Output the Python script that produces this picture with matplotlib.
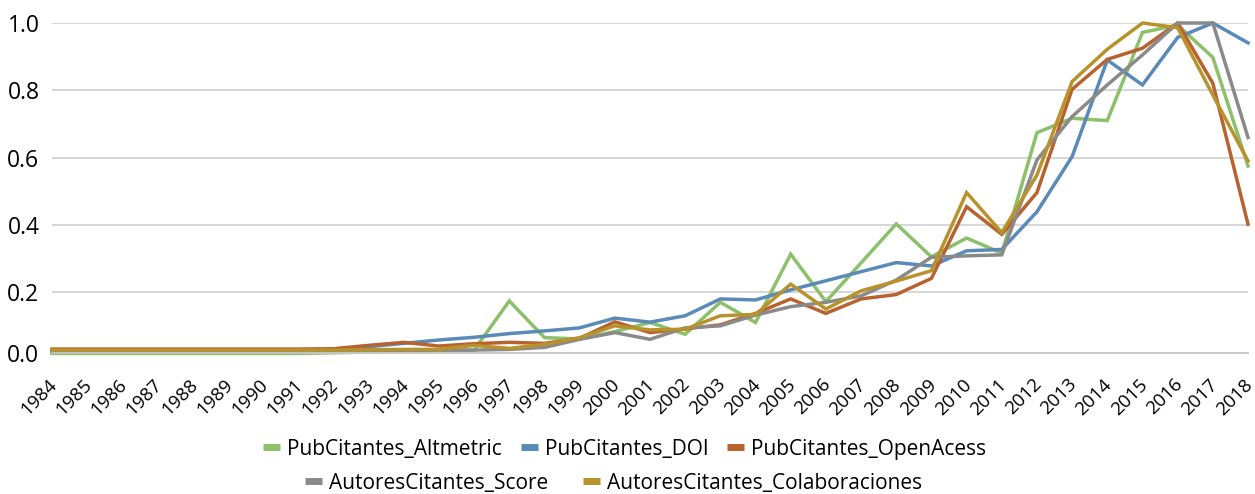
import matplotlib.pyplot as plt
import matplotlib.transforms as mtransforms
import numpy as np

# Years on the x axis
anios = list(range(1984, 2019))

# Normalised series (0-1) per year
pub_altmetric = [0.018, 0.018, 0.018, 0.018, 0.018, 0.018, 0.018, 0.018, 0.020, 0.022,
                 0.024, 0.026, 0.028, 0.174, 0.065, 0.061, 0.083, 0.110, 0.075, 0.170,
                 0.110, 0.313, 0.172, 0.287, 0.403, 0.305, 0.361, 0.316, 0.674, 0.717,
                 0.710, 0.972, 0.994, 0.898, 0.575]
pub_doi = [0.023, 0.023, 0.023, 0.023, 0.023, 0.023, 0.023, 0.023, 0.026, 0.038,
           0.048, 0.058, 0.066, 0.077, 0.085, 0.094, 0.123, 0.111, 0.130, 0.180,
           0.177, 0.207, 0.234, 0.261, 0.288, 0.278, 0.323, 0.327, 0.439, 0.603,
           0.890, 0.816, 0.957, 1.000, 0.941]
pub_openacess = [0.031, 0.031, 0.031, 0.031, 0.031, 0.031, 0.031, 0.031, 0.032, 0.042,
                 0.051, 0.040, 0.047, 0.051, 0.048, 0.063, 0.112, 0.080, 0.091, 0.103,
                 0.137, 0.180, 0.137, 0.180, 0.193, 0.241, 0.454, 0.372, 0.496, 0.803,
                 0.892, 0.925, 1.000, 0.821, 0.402]
aut_score = [0.025, 0.025, 0.025, 0.025, 0.025, 0.025, 0.025, 0.025, 0.025, 0.026,
             0.027, 0.028, 0.028, 0.030, 0.036, 0.060, 0.080, 0.060, 0.094, 0.100,
             0.132, 0.157, 0.170, 0.189, 0.236, 0.304, 0.308, 0.311, 0.593, 0.722,
             0.816, 0.905, 1.000, 1.000, 0.660]
aut_colab = [0.028, 0.028, 0.028, 0.028, 0.028, 0.028, 0.028, 0.028, 0.028, 0.029,
             0.030, 0.030, 0.042, 0.033, 0.045, 0.065, 0.100, 0.088, 0.090, 0.130,
             0.134, 0.224, 0.150, 0.204, 0.233, 0.264, 0.496, 0.377, 0.548, 0.826,
             0.922, 1.000, 0.986, 0.786, 0.590]

series = [
    ("PubCitantes_Altmetric", pub_altmetric, "#8cc06a"),
    ("PubCitantes_DOI", pub_doi, "#5a8ab8"),
    ("PubCitantes_OpenAcess", pub_openacess, "#b8632f"),
    ("AutoresCitantes_Score", aut_score, "#8a8a8a"),
    ("AutoresCitantes_Colaboraciones", aut_colab, "#b8932c"),
]

plt.rcParams['font.family'] = ['Open Sans', 'DejaVu Sans']

fig = plt.figure(figsize=(12.55, 4.94), dpi=100)
ax = fig.add_axes([52 / 1255, 1 - 352.5 / 494, (1248 - 52) / 1255, (352.5 - 23) / 494])

x = np.arange(len(anios))
lineas = []
for nombre, valores, color in series:
    l, = ax.plot(x, valores, color=color, lw=2.5, label=nombre, clip_on=False,
                 solid_joinstyle='miter')
    lineas.append(l)

y_min = 0.0208
ax.set_xlim(0, len(anios) - 1)
ax.set_ylim(y_min, 1.0)
ax.set_yticks([y_min, 0.2, 0.4, 0.6, 0.8, 1.0])
ax.set_yticklabels(["0.0", "0.2", "0.4", "0.6", "0.8", "1.0"], fontsize=16.5)
ax.set_xticks(x)
ax.set_xticklabels([str(a) for a in anios], rotation=45, ha='right', va='center',
                   rotation_mode='anchor', fontsize=13.5)
ax.tick_params(axis='both', length=0)
ax.tick_params(axis='x', pad=21)
ax.tick_params(axis='y', pad=9)

# shift the year labels slightly to the right of their tick
desplaza = mtransforms.ScaledTranslation(2 / 100, 0, fig.dpi_scale_trans)
for etiqueta in ax.get_xticklabels():
    etiqueta.set_transform(etiqueta.get_transform() + desplaza)

ax.grid(axis='y', color='#d4d4d4', lw=1.3)
ax.set_axisbelow(True)
for lado in ['top', 'right', 'left']:
    ax.spines[lado].set_visible(False)
ax.spines['bottom'].set_color('#c8c8c8')
ax.spines['bottom'].set_linewidth(1.3)

# Legend in two centred rows
opciones = dict(frameon=False, fontsize=15, handlelength=0.8, handletextpad=0.35,
                borderpad=0)
fila1 = fig.legend(handles=lineas[:3], loc='center', bbox_to_anchor=(0.498, 1 - 449 / 494),
                   ncol=3, columnspacing=0.9, **opciones)
fila2 = fig.legend(handles=lineas[3:], loc='center', bbox_to_anchor=(0.489, 1 - 483 / 494),
                   ncol=2, columnspacing=1.7, **opciones)
for leg in (fila1, fila2):
    for h in leg.legend_handles:
        h.set_linewidth(5)
        h.set_solid_capstyle('butt')

fig.savefig("out.png", dpi=100)
